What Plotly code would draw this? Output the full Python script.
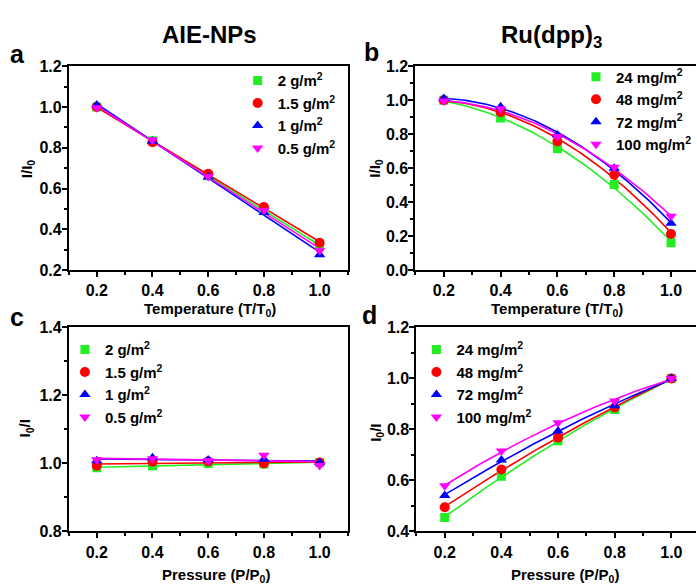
import numpy as np
import plotly.graph_objects as go

# ---------------- data ----------------
x_vals = [0.2, 0.4, 0.6, 0.8, 1.0]

a_names = ["2 g/m<sup>2</sup>", "1.5 g/m<sup>2</sup>", "1 g/m<sup>2</sup>", "0.5 g/m<sup>2</sup>"]
a_2 = [1.00, 0.835, 0.663, 0.494, 0.32]
a_15 = [1.00, 0.827, 0.673, 0.510, 0.335]
a_1 = [1.01, 0.832, 0.657, 0.483, 0.276]
a_05 = [0.997, 0.838, 0.660, 0.494, 0.295]

b_names = ["24 mg/m<sup>2</sup>", "48 mg/m<sup>2</sup>", "72 mg/m<sup>2</sup>", "100 mg/m<sup>2</sup>"]
b_24 = [1.00, 0.895, 0.714, 0.505, 0.162]
b_48 = [1.00, 0.930, 0.758, 0.562, 0.213]
b_72 = [1.01, 0.962, 0.796, 0.600, 0.276]
b_100 = [0.995, 0.950, 0.787, 0.606, 0.318]

c_2 = [0.987, 0.993, 1.000, 0.998, 1.003]
c_15 = [0.993, 1.005, 1.006, 1.000, 1.003]
c_1 = [1.008, 1.017, 1.010, 1.012, 1.003]
c_05 = [1.011, 1.014, 1.008, 1.024, 0.994]

d_24 = [0.455, 0.616, 0.756, 0.878, 1.000]
d_48 = [0.495, 0.643, 0.768, 0.886, 1.000]
d_72 = [0.541, 0.680, 0.794, 0.893, 1.000]
d_100 = [0.579, 0.715, 0.826, 0.912, 1.000]

x_ticks = [0.2, 0.4, 0.6, 0.8, 1.0]
x_ticklabels = ["0.2", "0.4", "0.6", "0.8", "1.0"]

colors = ["#22ee22", "#ff0000", "#0000ff", "#ff00ff"]
symbols = ["square", "circle", "triangle-up", "triangle-down"]
msizes = [9, 10, 10, 10]

W, H = 697, 588
FONT = "Liberation Sans, Arial, sans-serif"

fig = go.Figure()


def px_x(p):
    return p / W


def px_y(p):
    return 1 - p / H


def add_panel(idx, series, names, deg, legend_name):
    xa = "x" if idx == 1 else f"x{idx}"
    ya = "y" if idx == 1 else f"y{idx}"
    grid = np.linspace(0.2, 1.0, 60)
    for k, (ys, nm) in enumerate(zip(series, names)):
        coef = np.polyfit(x_vals, ys, deg)
        fig.add_trace(go.Scatter(
            x=grid, y=np.polyval(coef, grid), mode="lines",
            line=dict(color=colors[k], width=1.6), showlegend=False,
            xaxis=xa, yaxis=ya, hoverinfo="skip"))
    for k, (ys, nm) in enumerate(zip(series, names)):
        fig.add_trace(go.Scatter(
            x=x_vals, y=ys, mode="markers", name=nm,
            marker=dict(symbol=symbols[k], size=msizes[k], color=colors[k]),
            xaxis=xa, yaxis=ya, legend=legend_name,
            legendgroup=f"{legend_name}{k}"))


add_panel(1, [a_2, a_15, a_1, a_05], a_names, 1, "legend")
add_panel(2, [b_24, b_48, b_72, b_100], b_names, 2, "legend2")
add_panel(3, [c_2, c_15, c_1, c_05], a_names, 1, "legend3")
add_panel(4, [d_24, d_48, d_72, d_100], b_names, 2, "legend4")

tickfont = dict(family=FONT, size=16, color="black", weight="bold")


def xaxis(dom, rng, anchor):
    return dict(domain=dom, range=rng, anchor=anchor, tickvals=x_ticks, ticktext=x_ticklabels,
                ticks="outside", ticklen=5, tickwidth=2, tickcolor="black",
                minor=dict(ticks="outside", ticklen=3, tickwidth=1.5, dtick=0.1,
                           tick0=0.1, tickcolor="black"),
                showline=True, linewidth=2, linecolor="black", mirror=True,
                showgrid=False, zeroline=False, tickfont=tickfont)


def yaxis(dom, rng, anchor, mirror=True):
    return dict(domain=dom, range=rng, anchor=anchor, dtick=0.2, tickformat=".1f",
                ticks="outside", ticklen=5, tickwidth=2, tickcolor="black",
                ticklabelstandoff=-3,
                minor=dict(ticks="outside", ticklen=3, tickwidth=1.5, dtick=0.1,
                           tickcolor="black"),
                showline=True, linewidth=2, linecolor="black", mirror=mirror,
                showgrid=False, zeroline=False, tickfont=tickfont)


top_dom = [px_y(270), px_y(60)]
bot_dom = [px_y(539), px_y(329)]
left_dom = [px_x(69), px_x(348)]
right_dom_b = [px_x(416), 1.0]
right_dom_d = [px_x(417), 1.0]

legfont = dict(family=FONT, size=15, color="black", weight="bold")


def legend(xp, yp):
    return dict(x=px_x(xp), y=px_y(yp), xanchor="left", yanchor="top",
                bgcolor="rgba(0,0,0,0)", font=legfont, tracegroupgap=0,
                itemwidth=30)


fig.update_layout(
    width=W, height=H, margin=dict(l=0, r=0, t=0, b=0),
    paper_bgcolor="white", plot_bgcolor="white",
    xaxis=xaxis(left_dom, [0.1, 1.1], "y"),
    yaxis=yaxis(top_dom, [0.2, 1.2], "x"),
    xaxis2=xaxis(right_dom_b, [0.1, 1.088], "y2"),
    yaxis2=yaxis(top_dom, [0.0, 1.2], "x2", mirror=False),
    xaxis3=xaxis(left_dom, [0.1, 1.1], "y3"),
    yaxis3=yaxis(bot_dom, [0.8, 1.4], "x3"),
    xaxis4=xaxis(right_dom_d, [0.1, 1.087], "y4"),
    yaxis4=yaxis(bot_dom, [0.4, 1.2], "x4", mirror=False),
    legend=legend(238, 58),
    legend2=legend(577, 54),
    legend3=legend(65, 335),
    legend4=legend(417, 335),
)

annots = [
    ("<b>AIE-NPs</b>", 210, 27, 24, 0),
    ("<b>Ru(dpp)<sub>3</sub></b>", 552, 29, 24, 0),
    ("<b>a</b>", 18, 47, 25, 0),
    ("<b>b</b>", 372, 45, 25, 0),
    ("<b>c</b>", 17, 318, 25, 0),
    ("<b>d</b>", 370, 316, 25, 0),
    ("<b>I/I<sub>0</sub></b>", 27, 165, 15, -90),
    ("<b>I/I<sub>0</sub></b>", 376, 165, 15, -90),
    ("<b>I<sub>0</sub>/I</b>", 26, 433, 15, -90),
    ("<b>I<sub>0</sub>/I</b>", 377, 437, 15, -90),
    ("<b>Temperature (T/T<sub>0</sub>)</b>", 210, 310, 15, 0),
    ("<b>Temperature (T/T<sub>0</sub>)</b>", 558, 310, 15, 0),
    ("<b>Pressure (P/P<sub>0</sub>)</b>", 216, 584, 15, 0),
    ("<b>Pressure (P/P<sub>0</sub>)</b>", 566, 584, 15, 0),
]
for txt, xp, yp, sz, ang in annots:
    fig.add_annotation(text=txt, x=px_x(xp), y=px_y(yp), xref="paper", yref="paper",
                       xanchor="center", yanchor="middle", showarrow=False,
                       textangle=ang, font=dict(family=FONT, size=sz, color="black"))

fig.write_html("out.html")
